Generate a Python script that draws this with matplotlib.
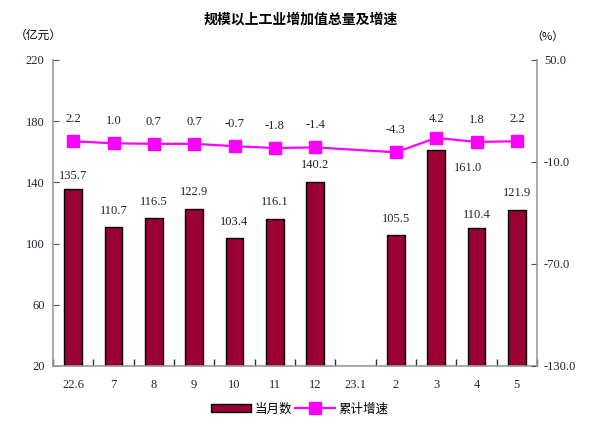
import matplotlib
matplotlib.use("Agg")
import matplotlib.pyplot as plt
import numpy as np

plt.rcParams['font.family'] = ['Liberation Serif', 'Noto Sans CJK SC', 'DejaVu Sans']
plt.rcParams['axes.unicode_minus'] = False

# data
months = ["22.6", "7", "8", "9", "10", "11", "12", "23.1", "2", "3", "4", "5"]
monthly_value = [135.7, 110.7, 116.5, 122.9, 103.4, 116.1, 140.2, np.nan, 105.5, 161.0, 110.4, 121.9]
cum_growth = [2.2, 1.0, 0.7, 0.7, -0.7, -1.8, -1.4, np.nan, -4.3, 4.2, 1.8, 2.2]

bar_color = "#990033"
line_color = "#ff00ff"
grey = "#999999"

fig = plt.figure(figsize=(6, 4.3), dpi=100)
ax = fig.add_axes([53 / 600, 1 - 366 / 430, 484 / 600, 306 / 430])
ax2 = ax.twinx()

x = np.arange(len(months))
vals = np.array(monthly_value)
growth = np.array(cum_growth)

ax.bar(x, vals, width=0.43, color=bar_color, edgecolor="black", linewidth=1, zorder=2, label="当月数")

ok = ~np.isnan(growth)
ax2.plot(x[ok], growth[ok], color=line_color, linewidth=1.6, marker="s", markersize=8,
         zorder=3, label="累计增速")

# axes ranges and ticks
ax.set_xlim(-0.5, len(months) - 0.5)
ax.set_ylim(20, 220)
ax.set_yticks([20, 60, 100, 140, 180, 220])
ax2.set_ylim(-130, 50)
ax2.set_yticks([-130, -70, -10, 50])
ax2.set_yticklabels(["%.1f" % v for v in [-130, -70, -10, 50]])

ax.set_xticks(x)
ax.set_xticklabels(months)
ax.set_xticks(np.arange(len(months) + 1) - 0.5, minor=True)
ax.tick_params(axis="x", which="major", length=0, pad=9, labelsize=9, labelcolor="#222233")
ax.tick_params(axis="x", which="minor", length=5, direction="in", color="#333333", width=1)
ax.tick_params(axis="y", direction="in", length=4, color="#555555", pad=6, labelsize=9,
               labelcolor="#222233")
ax2.tick_params(axis="y", direction="in", length=4, color="#555555", pad=5, labelsize=9,
                labelcolor="#222233")

for a in (ax, ax2):
    a.spines["top"].set_visible(False)
    for s in ("left", "right", "bottom"):
        a.spines[s].set_color(grey)
        a.spines[s].set_linewidth(1.2)
ax.spines["right"].set_visible(False)
ax2.spines["left"].set_visible(False)
ax2.spines["bottom"].set_visible(False)

# bar labels
bar_off = {0: 9, 10: 9}
for i, v in enumerate(vals):
    if np.isnan(v):
        continue
    if i == 9:
        ax.annotate("%.1f" % v, (x[i], v), xytext=(23, -13), textcoords="offset points",
                    ha="center", va="center", fontsize=9, color="#222222")
    else:
        ax.annotate("%.1f" % v, (x[i], v), xytext=(0, bar_off.get(i, 12)), textcoords="offset points",
                    ha="center", va="center", fontsize=9, color="#222222")

# line labels
line_off = {9: 13.5}
for i, g in enumerate(growth):
    if np.isnan(g):
        continue
    ax2.annotate("%.1f" % g, (x[i], g), xytext=(0, line_off.get(i, 16)), textcoords="offset points",
                 ha="center", va="center", fontsize=9, color="#222222")

fig.text(0.502, 1 - 20 / 430, "规模以上工业增加值总量及增速", ha="center", va="center",
         fontsize=10, fontweight="bold", family=["Noto Sans CJK SC"])
fig.text(38 / 600, 1 - 35 / 430, "（亿元）", ha="center", va="center", fontsize=8.5,
         family=["Noto Sans CJK SC"])
fig.text(547 / 600, 1 - 37 / 430, "（%）", ha="center", va="center", fontsize=8,
         family=["Noto Sans CJK SC"])

h1, l1 = ax.get_legend_handles_labels()
h2, l2 = ax2.get_legend_handles_labels()
fig.legend(h1 + h2, l1 + l2, loc="center", bbox_to_anchor=(0.5, 1 - 409 / 430), ncol=2,
           frameon=False, handlelength=3.2, handleheight=0.6, handletextpad=0.3, columnspacing=0.2,
           prop={"family": ["Noto Sans CJK SC"], "size": 9})

fig.savefig("out.png", dpi=100)
